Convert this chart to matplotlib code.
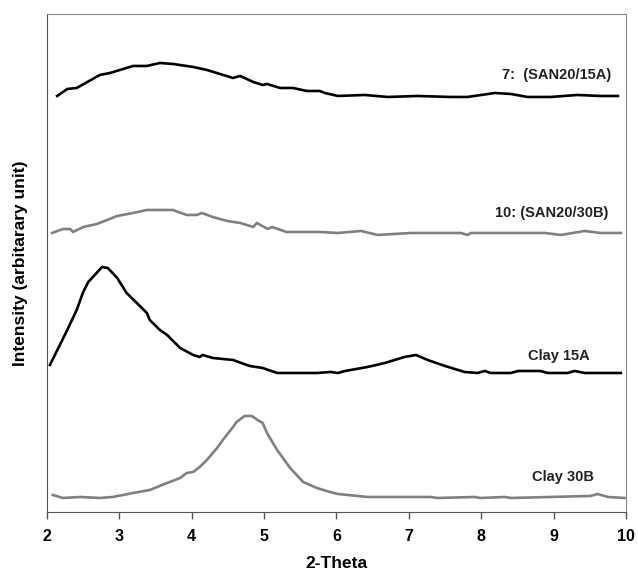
import matplotlib.pyplot as plt

plt.rcParams['font.family'] = ['Liberation Sans', 'DejaVu Sans']
plt.rcParams['font.weight'] = 'bold'

# XRD traces (intensity in arbitrary units, offset per sample)
theta_7 = [2.14, 2.28, 2.41, 2.73, 2.87, 3.19, 3.38, 3.56, 3.74, 4.02, 4.21, 4.39, 4.57, 4.67,
           4.85, 4.98, 5.04, 5.22, 5.40, 5.59, 5.77, 5.84, 6.02, 6.39, 6.71, 7.12, 7.58, 7.81,
           8.19, 8.41, 8.64, 8.96, 9.33, 9.65, 9.89]
int_7 = [416, 423, 424, 437, 439, 446, 446, 449, 448, 445, 442, 438, 434, 436,
         430, 427, 428, 424, 424, 421, 421, 419, 416, 417, 415, 416, 415, 415,
         419, 418, 415, 415, 417, 416, 416]

theta_10 = [2.07, 2.22, 2.32, 2.36, 2.50, 2.69, 2.97, 3.19, 3.38, 3.74, 3.93, 4.07, 4.14, 4.29,
            4.49, 4.67, 4.85, 4.90, 5.05, 5.11, 5.31, 5.77, 6.02, 6.34, 6.57, 7.03, 7.72, 7.81,
            7.86, 8.33, 8.88, 9.10, 9.43, 9.65, 9.93]
int_10 = [279, 283, 283, 280, 285, 288, 296, 299, 302, 302, 297, 297, 299, 295,
          291, 289, 285, 289, 283, 285, 280, 280, 279, 281, 277, 279, 279, 277,
          279, 279, 279, 277, 281, 279, 279]

theta_15a = [2.04, 2.28, 2.41, 2.50, 2.57, 2.66, 2.76, 2.84, 2.97, 3.10, 3.24, 3.38, 3.42, 3.56,
             3.66, 3.84, 4.02, 4.11, 4.15, 4.29, 4.57, 4.80, 4.98, 5.18, 5.73, 5.92, 6.02, 6.12,
             6.43, 6.67, 6.94, 7.10, 7.26, 7.50, 7.77, 7.95, 8.05, 8.13, 8.41, 8.51, 8.82, 8.92,
             9.20, 9.29, 9.43, 9.93]
int_15a = [147, 182, 202, 220, 230, 237, 245, 244, 234, 219, 209, 199, 192, 182,
           177, 164, 157, 155, 157, 154, 152, 146, 144, 139, 139, 140, 139, 141,
           145, 149, 155, 157, 152, 146, 140, 139, 141, 139, 139, 141, 141, 139,
           139, 141, 139, 139]

theta_30b = [2.08, 2.22, 2.46, 2.73, 2.91, 3.19, 3.42, 3.66, 3.84, 3.93, 4.02, 4.11, 4.21, 4.35,
             4.43, 4.57, 4.62, 4.73, 4.83, 4.91, 4.98, 5.04, 5.18, 5.36, 5.54, 5.73, 5.91, 6.02,
             6.43, 7.30, 7.40, 7.91, 7.99, 8.33, 8.41, 9.51, 9.61, 9.75, 9.98]
int_30b = [17, 14, 15, 14, 15, 19, 22, 29, 34, 39, 40, 45, 52, 64,
           72, 85, 90, 96, 96, 92, 89, 79, 62, 44, 30, 24, 20, 18,
           15, 15, 14, 15, 14, 15, 14, 16, 18, 15, 14]

fig = plt.figure(figsize=(6.38, 5.75), dpi=100)
ax = fig.add_axes([0.0737, 0.1096, 0.9073, 0.8661])

ax.plot(theta_7, int_7, color='black', lw=1.9)
ax.plot(theta_10, int_10, color='#808080', lw=1.9)
ax.plot(theta_15a, int_15a, color='black', lw=1.9)
ax.plot(theta_30b, int_30b, color='#808080', lw=1.9)

ax.text(9.04, 437, '7:  (SAN20/15A)', ha='center', va='center', fontsize=10.5, fontweight='bold', color='#222222')
ax.text(8.98, 299, '10: (SAN20/30B)', ha='center', va='center', fontsize=10.5, fontweight='bold', color='#222222')
ax.text(9.07, 156, 'Clay 15A', ha='center', va='center', fontsize=10.5, fontweight='bold', color='#222222')
ax.text(9.13, 35, 'Clay 30B', ha='center', va='center', fontsize=10.5, fontweight='bold', color='#222222')

ax.set_xlim(2, 10)
ax.set_ylim(0, 498)
ax.set_yticks([])
ax.set_xticks(range(2, 11))
ax.tick_params(axis='x', direction='out', length=5, width=1, color='#555555',
               labelsize=11.5, pad=7)
for lbl in ax.get_xticklabels():
    lbl.set_fontweight('bold')

for side in ['top', 'right']:
    ax.spines[side].set_color('#888888')
for side in ['left', 'bottom']:
    ax.spines[side].set_color('#555555')

ax.set_xlabel('2-Theta', fontsize=12.5, fontweight='bold', labelpad=9)
ax.set_ylabel('Intensity (arbitarary unit)', fontsize=12.5, fontweight='bold', labelpad=14)

fig.savefig('out.png', dpi=100)
